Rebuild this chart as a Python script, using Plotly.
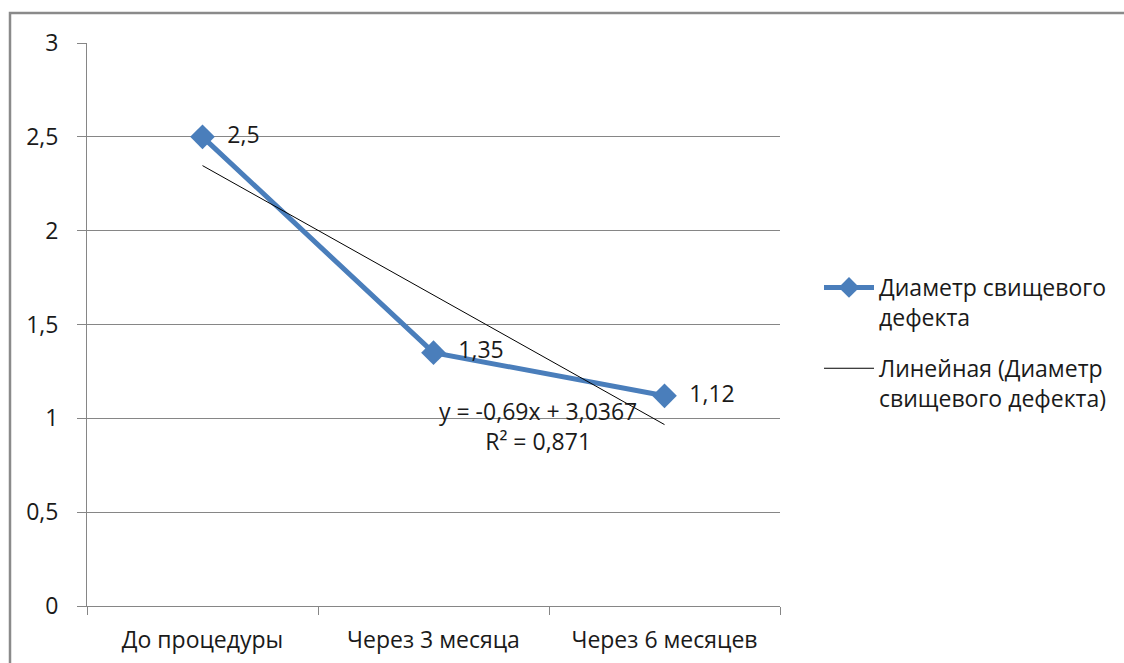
import numpy as np
import plotly.graph_objects as go

# Fistula defect diameter measured at three time points
categories = ["До процедуры", "Через 3 месяца", "Через 6 месяцев"]
diameter = [2.5, 1.35, 1.12]
series_name = "Диаметр свищевого<br>дефекта"
trend_name = "Линейная (Диаметр<br>свищевого дефекта)"
y_ticks = [0, 0.5, 1, 1.5, 2, 2.5, 3]

# Linear trend over the category index (1, 2, 3)
idx = np.arange(1, len(diameter) + 1)
slope, intercept = np.polyfit(idx, diameter, 1)
fitted = slope * idx + intercept
ss_res = np.sum((np.array(diameter) - fitted) ** 2)
ss_tot = np.sum((np.array(diameter) - np.mean(diameter)) ** 2)
r2 = 1 - ss_res / ss_tot

def ru(v, nd):
    return f"{v:.{nd}f}".rstrip("0").rstrip(".").replace(".", ",")

eq_text = f"y = {ru(slope, 4)}x + {ru(intercept, 4)}<br>R² = {ru(r2, 3)}"
label_text = ["\u00a0\u00a0" + ru(v, 2) for v in diameter]

FONT = "Open Sans"
FS = 23
TXT = "#1a1a1a"
BLUE = "#4A7EBB"
GRID = "#868686"

W, H = 1124, 663
L, R, T, B = 87, 780, 43, 606

fig = go.Figure()
fig.add_trace(go.Scatter(
    x=categories, y=diameter, name=series_name, legendgroup="a",
    mode="lines+markers+text",
    line=dict(color=BLUE, width=5),
    marker=dict(symbol="diamond", size=19, color=BLUE),
    text=label_text, textposition="middle right",
    textfont=dict(family=FONT, size=FS, color=TXT),
    cliponaxis=False,
))
fig.add_trace(go.Scatter(
    x=categories, y=fitted, name=trend_name, legendgroup="b",
    mode="lines", line=dict(color="#000", width=1),
))

# Trendline equation
fig.add_annotation(
    xref="paper", yref="paper",
    x=(538 - L) / (R - L), y=(B - 426) / (B - T),
    xanchor="center", yanchor="middle",
    text=eq_text, showarrow=False, align="center",
    font=dict(family=FONT, size=FS, color=TXT),
)

# Outer chart border
fig.add_shape(
    type="rect", xref="paper", yref="paper",
    x0=(10 - L) / (R - L), x1=(W + 20 - L) / (R - L),
    y0=(B - (H + 20)) / (B - T), y1=(B - 13) / (B - T),
    line=dict(color="#8a8a8a", width=2.5), layer="below",
)

fig.update_layout(
    width=W, height=H,
    margin=dict(l=L, r=W - R, t=T, b=H - B),
    paper_bgcolor="white", plot_bgcolor="white",
    separators=", ",
    font=dict(family=FONT, size=FS, color=TXT),
    showlegend=True,
    legend=dict(
        x=(819 - L) / (R - L), y=(B - 266) / (B - T),
        xanchor="left", yanchor="top",
        valign="top", traceorder="grouped", tracegroupgap=18,
        itemwidth=50,
        font=dict(family=FONT, size=FS, color=TXT),
        bgcolor="rgba(0,0,0,0)",
    ),
    xaxis=dict(
        type="category", range=[-0.5, 2.5], automargin=False,
        tickson="boundaries", ticks="outside", ticklen=8,
        tickcolor=GRID, showline=True, linecolor=GRID, linewidth=1,
        showgrid=False, zeroline=False, ticklabelstandoff=13,
        tickfont=dict(family=FONT, size=FS, color=TXT),
    ),
    yaxis=dict(
        range=[0, 3], tickvals=y_ticks, automargin=False,
        ticks="outside", ticklen=9, tickcolor=GRID,
        showline=True, linecolor=GRID, linewidth=1,
        showgrid=True, gridcolor=GRID, gridwidth=1,
        zeroline=False, tickformat=".1~f", ticklabelstandoff=14,
        tickfont=dict(family=FONT, size=FS, color=TXT),
    ),
)

fig.write_html("out.html")
